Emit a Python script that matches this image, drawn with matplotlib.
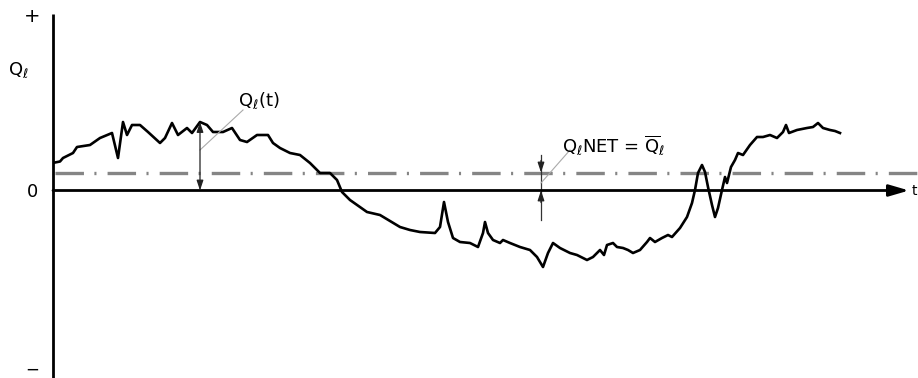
import matplotlib
matplotlib.use("Agg")
import matplotlib.pyplot as plt

plt.rcParams['font.family'] = ['DejaVu Sans']
plt.rcParams['mathtext.fontset'] = 'dejavusans'
plt.rcParams['lines.scale_dashes'] = False

# time axis (arbitrary units) and instantaneous discharge Q_l(t)
t = [55, 60, 63, 73, 77, 90, 100, 112, 118, 123, 127, 132, 140, 148, 160, 165,
     172, 178, 187, 192, 200, 207, 213, 223, 232, 240, 247, 257, 268, 273, 280,
     290, 300, 310, 320, 330, 337, 342, 350, 367, 380, 400, 410, 420, 435, 440,
     444, 448, 453, 460, 470, 478, 483, 485, 488, 493, 500, 503, 510, 520, 530,
     537, 543, 548, 553, 560, 570, 577, 587, 593, 600, 604, 607, 613, 617, 623,
     628, 633, 640, 647, 650, 655, 662, 668, 672, 680, 687, 692, 695, 698, 702,
     705, 708, 712, 715, 718, 722, 725, 727, 731, 735, 738, 743, 750, 757, 763,
     770, 777, 783, 786, 789, 797, 807, 813, 818, 823, 830, 835, 840]
q = [28, 29, 32.5, 37.5, 43.5, 45.5, 52.5, 57.5, 32.5, 68.5, 55.5, 65.5, 65.5,
     58.5, 47.5, 52.5, 67.5, 55.5, 62.5, 57.5, 68.5, 65.5, 58.5, 58.5, 62.5,
     50.5, 48.5, 55.5, 55.5, 47.5, 42.5, 37.5, 35.5, 27.5, 17.5, 17.5, 10.5,
     -1.5, -9.5, -21.5, -24.5, -36.5, -39.5, -41.5, -42.5, -36.5, -11.5, -31.5,
     -47.5, -51.5, -52.5, -56.5, -42.5, -31.5, -42.5, -49.5, -52.5, -49.5,
     -52.5, -56.5, -59.5, -66.5, -76.5, -62.5, -52.5, -57.5, -62.5, -64.5,
     -69.5, -66.5, -59.5, -64.5, -54.5, -52.5, -56.5, -57.5, -59.5, -62.5,
     -59.5, -51.5, -47.5, -51.5, -47.5, -44.5, -46.5, -37.5, -26.5, -12.5, 0.5,
     17.5, 25.5, 18.5, 3.5, -14.5, -26.5, -17.5, 0.5, 13.5, 7.5, 23.5, 30.5,
     37.5, 35.5, 45.5, 53.5, 53.5, 55.5, 52.5, 58.5, 65.5, 57.5, 60.5, 62.5,
     63.5, 67.5, 62.5, 60.5, 59.5, 57.5]
q_net = 18

# marker positions for the dimension annotations
t_mark1 = 200
t_mark2 = 541

fig = plt.figure(figsize=(9.18, 3.78), dpi=100)
ax = fig.add_axes([0, 0, 1, 1])
ax.set_xlim(0, 918)
ax.set_ylim(-187.5, 190.5)
ax.axis('off')

# y axis
ax.plot([53, 53], [176.5, -187.5], color='black', lw=2.0, solid_capstyle='butt')
# x axis with arrow
ax.annotate('', xy=(909, 0), xytext=(53, 0),
            arrowprops=dict(arrowstyle='-|>,head_length=1.2,head_width=0.35',
                            color='black', lw=2.0, shrinkA=0, shrinkB=0))
ax.text(917.5, 0, 't', fontsize=10, ha='right', va='center')

# net (mean) line, dash-dot
ax.plot([55, 918], [q_net, q_net], color='#858585', lw=2.4,
        linestyle=(0, (20.5, 7.5, 1.5, 8)))

# signal
ax.plot(t, q, color='black', lw=1.9, solid_joinstyle='round')

# dimension arrow at first marker
q1 = q[t.index(t_mark1)]
ax.annotate('', xy=(t_mark1, q1), xytext=(t_mark1, 0),
            arrowprops=dict(arrowstyle='<|-|>,head_length=0.6,head_width=0.2',
                            color='#222222', lw=0.9, shrinkA=0, shrinkB=0))
ax.plot([t_mark1, 243], [40.5, 80.5], color='#aaaaaa', lw=0.8)
ax.text(238, 90, r'Q$_{\ell}$(t)', fontsize=13, ha='left', va='center')

# dimension marks at second marker
ax.plot([t_mark2, t_mark2], [35.5, -29.5], color='#333333', lw=0.9)
ax.annotate('', xy=(t_mark2, q_net), xytext=(t_mark2, 30),
            arrowprops=dict(arrowstyle='-|>,head_length=0.6,head_width=0.2',
                            color='#222222', lw=0.9, shrinkA=0, shrinkB=0))
ax.annotate('', xy=(t_mark2, 0), xytext=(t_mark2, -12),
            arrowprops=dict(arrowstyle='-|>,head_length=0.6,head_width=0.2',
                            color='#222222', lw=0.9, shrinkA=0, shrinkB=0))
ax.plot([t_mark2, 570], [7.5, 40.5], color='#aaaaaa', lw=0.8)
ax.text(562, 45, r'Q$_{\ell}$NET = $\overline{\mathregular{Q}}_{\ell}$',
        fontsize=13, ha='left', va='center')

# axis labels
ax.text(32, 174, '+', fontsize=14, ha='center', va='center')
ax.text(8, 120.5, r'Q$_{\ell}$', fontsize=13, ha='left', va='center')
ax.text(32.5, -1, '0', fontsize=13, ha='center', va='center')
ax.text(32.5, -179.5, '\u2212', fontsize=12, ha='center', va='center')

fig.savefig('out.png', dpi=100)
